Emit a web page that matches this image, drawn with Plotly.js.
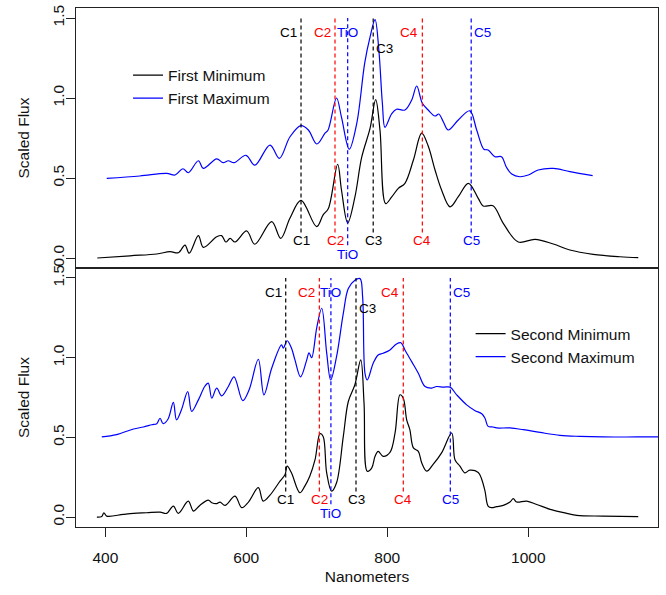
<!DOCTYPE html>
<html>
<head>
<meta charset="utf-8">
<script src="https://cdn.plot.ly/plotly-3.0.1.min.js"></script>
<style>html,body{margin:0;padding:0;background:#fff;}#chart{width:666px;height:595px;}</style>
</head>
<body>
<div id="chart"></div>
<script>
// ---------- DATA ----------
// Top panel: First Minimum (black) / First Maximum (blue)
const firstMinNm = [388.6,435,473,491.8,503.6,513,519,532,539,558,565,571,577,584,600.6,612,636,648.8,662,677.6,699.8,709,716.4,729.6,735,743.8,754,763.7,775.5,783.5,789.6,797.7,806,815.6,825,837,848.8,858,867.7,877,889,900.7,915,929,936,950,964.5,985.8,1009.5,1035.5,1059,1092,1130,1156];
const firstMinVal = [0.0,0.014,0.025,0.04,0.033,0.081,0.03,0.14,0.067,0.133,0.14,0.10,0.123,0.10,0.169,0.086,0.227,0.123,0.25,0.36,0.196,0.27,0.31,0.586,0.425,0.22,0.38,0.63,0.81,0.99,0.80,0.34,0.38,0.435,0.467,0.6125,0.78,0.70,0.55,0.425,0.32,0.383,0.467,0.373,0.325,0.327,0.217,0.10,0.117,0.0875,0.05,0.023,0.008,0.002];
const firstMaxNm = [402,449,487,499,510,517.7,532,539,558,567,574.5,582.6,599.6,612,633.6,646.8,662,677.6,688,700,711.6,716,728,735,746,756.6,768,775.5,782.6,788,793,796.7,806,813,825,834.6,841.7,849.7,858,867.7,873,879.4,886.5,900.7,917,926.8,937,943,952.7,962,969,976.5,988,1000,1014,1035.5,1059,1091.3];
const firstMaxVal = [0.498,0.5125,0.529,0.519,0.558,0.533,0.608,0.56,0.62,0.596,0.608,0.596,0.642,0.58,0.706,0.623,0.758,0.827,0.80,0.7125,0.78,0.80,1.00,0.88,0.68,0.84,1.22,1.38,1.49,1.30,0.967,0.817,0.90,0.93,0.925,0.9875,1.075,0.967,0.925,0.8875,0.90,0.852,0.80,0.8625,0.92,0.80,0.68,0.675,0.633,0.633,0.567,0.525,0.508,0.519,0.55,0.56,0.54,0.515];

// Bottom panel: Second Minimum (black) / Second Maximum (blue)
const secondMinNm = [388,395,398,402,425.5,440,458.7,477.6,487,496.5,503.5,517.7,525,534,546,551,558,562.7,569.8,584,593.5,603,617,624,633.6,647.8,655,658,664,676,683,690,697.5,704.6,709,714,721,728,737.6,744.7,754,762.3,767,771.6,778,782.6,787,794,803.8,811,818,822.7,827.5,832,837,844,848.8,856,865,877,891.4,896,903,910,917,929,934,938.6,943,948,955,964.5,974,978.7,983.5,997.7,1012,1031,1050,1068.7,1106,1156];
const secondMinVal = [0.0,0.004,0.027,0.006,0.017,0.023,0.027,0.031,0.023,0.069,0.023,0.1,0.0375,0.073,0.106,0.09,0.084,0.094,0.073,0.131,0.059,0.094,0.184,0.10,0.1375,0.225,0.267,0.319,0.2775,0.1525,0.194,0.256,0.36,0.523,0.506,0.2775,0.1625,0.215,0.506,0.725,0.83,0.986,0.715,0.2875,0.309,0.381,0.4125,0.381,0.406,0.5275,0.767,0.746,0.61,0.548,0.434,0.4125,0.34,0.2875,0.33,0.4025,0.5275,0.36,0.319,0.2775,0.294,0.28,0.236,0.1625,0.069,0.059,0.065,0.073,0.094,0.115,0.094,0.1,0.079,0.048,0.0275,0.0106,0.006,0.0025];
const secondMaxNm = [395,416,440,454,466,473,477.6,482,489,496.5,501,508,516.9,522.5,532,541,546,551,558,565,574.5,582.6,595,604,617,625,636,650,652.5,658,664,669,677,685.7,689,692.7,700,707,714,719.7,728,737.6,744.7,754,761.3,765,768.4,771.6,780,787,794,803.8,813,819.4,825,834.6,844,853.5,863,870,879.5,889,898.4,912.6,924,934,938.6,943,950,955,974,993,1016.6,1045,1073,1106,1154,1190];
const secondMaxVal = [0.5025,0.517,0.5525,0.565,0.579,0.586,0.62,0.586,0.615,0.72,0.61,0.673,0.7875,0.6625,0.735,0.819,0.84,0.746,0.809,0.76,0.819,0.88,0.73,0.798,0.99,0.767,0.934,1.08,1.06,1.106,1.06,0.986,0.88,0.986,1.03,1.0,1.19,1.31,1.03,0.86,1.006,1.2775,1.434,1.486,1.496,1.38,0.9,0.86,0.965,1.017,1.0275,1.048,1.086,1.094,1.048,0.975,0.9025,0.819,0.809,0.819,0.815,0.815,0.767,0.704,0.669,0.648,0.62,0.569,0.565,0.559,0.559,0.548,0.531,0.5125,0.506,0.5025,0.5025,0.5025];

// Feature markers (wavelengths, nm)
const featureNames = ['C1','C2','TiO','C3','C4','C5'];
const featureColors = ['black','red','blue','black','red','blue'];
const firstFeatureNm = [677.6,725.8,743.8,780,849.7,919];
const secondFeatureNm = [655.9,703.6,720,755.6,822.7,889.4];

const yTickVals = [0,0.5,1,1.5];
const yTickText = ['0.0','0.5','1.0','1.5'];
const xTickVals = [400,600,800,1000];
const xTickText = ['400','600','800','1000'];

// ---------- STYLE ----------
const FONT = 'Liberation Sans, Arial, Helvetica, sans-serif';
const lineSpec = {top:1.5, bottom:0.16, bottomTiO:0.08};
const topAnchor = ['right','right','center','left','right','left'];
const topLabelY = [1.41,1.41,1.41,1.31,1.41,1.41];
const bottomLabelY = [0.11,0.11,0.02,0.11,0.11,0.11];

const traces = [];
function spectrum(x, y, color, name, xa, ya, legend) {
  traces.push({type:'scatter', mode:'lines', x:x, y:y, name:name, xaxis:xa, yaxis:ya, legend:legend,
    line:{color:color, width:1.2, shape:'spline', smoothing:1.0}, hoverinfo:'skip'});
}
spectrum(firstMinNm, firstMinVal, 'black', 'First Minimum', 'x2', 'y2', 'legend');
spectrum(firstMaxNm, firstMaxVal, 'blue', 'First Maximum', 'x2', 'y2', 'legend');
spectrum(secondMinNm, secondMinVal, 'black', 'Second Minimum', 'x', 'y', 'legend2');
spectrum(secondMaxNm, secondMaxVal, 'blue', 'Second Maximum', 'x', 'y', 'legend2');

const annotations = [];
function features(nms, xa, ya) {
  nms.forEach((nm, i) => {
    const yb = featureNames[i] === 'TiO' ? lineSpec.bottomTiO : lineSpec.bottom;
    traces.push({type:'scatter', mode:'lines', x:[nm, nm], y:[yb, lineSpec.top], xaxis:xa, yaxis:ya,
      showlegend:false, hoverinfo:'skip', line:{color:featureColors[i], width:1.2, dash:'4px,3px'}});
    const anc = topAnchor[i];
    annotations.push({xref:xa, yref:ya, x:nm, y:topLabelY[i], text:featureNames[i], showarrow:false,
      xanchor:anc, yanchor:'middle', xshift: anc==='right' ? -2 : (anc==='left' ? 1 : 0),
      font:{family:FONT, size:13.5, color:featureColors[i]}});
    annotations.push({xref:xa, yref:ya, x:nm, y:bottomLabelY[i], text:featureNames[i], showarrow:false,
      xanchor:'center', yanchor:'middle', font:{family:FONT, size:13.5, color:featureColors[i]}});
  });
}
features(firstFeatureNm, 'x2', 'y2');
features(secondFeatureNm, 'x', 'y');

const frame = {showline:true, mirror:true, linecolor:'#222', linewidth:1.2, showgrid:false, zeroline:false};
const yCommon = Object.assign({}, frame, {range:[-0.0625,1.5625], tickmode:'array', tickvals:yTickVals, ticktext:yTickText,
  tickangle:-90, ticks:'outside', ticklen:9, tickwidth:1, tickcolor:'#222', ticklabelstandoff:-4,
  title:{text:'Scaled Flux', font:{family:FONT, size:15.5, color:'#111'}, standoff:16}});

const layout = {
  width:666, height:595,
  margin:{l:76, r:8, t:8, b:68},
  paper_bgcolor:'white', plot_bgcolor:'white',
  font:{family:FONT, size:15.5, color:'#111'},
  showlegend:true,
  xaxis: Object.assign({}, frame, {anchor:'y', range:[358.4,1184], tickmode:'array', tickvals:xTickVals, ticktext:xTickText,
    ticks:'outside', ticklen:9, tickwidth:1, tickcolor:'#222', ticklabelstandoff:7,
    title:{text:'Nanometers', font:{family:FONT, size:15.5, color:'#111'}, standoff:6}}),
  xaxis2: Object.assign({}, frame, {anchor:'y2', matches:'x', range:[358.4,1184], showticklabels:false, ticks:''}),
  yaxis: Object.assign({}, yCommon, {domain:[0,0.499], anchor:'x'}),
  yaxis2: Object.assign({}, yCommon, {domain:[0.499,1], anchor:'x2'}),
  legend:{x:0.0894, y:0.9027, xanchor:'left', yanchor:'top', bgcolor:'rgba(0,0,0,0)', borderwidth:0,
    font:{family:FONT, size:15.5, color:'#111'}, tracegroupgap:0},
  legend2:{x:0.678, y:0.4047, xanchor:'left', yanchor:'top', bgcolor:'rgba(0,0,0,0)', borderwidth:0,
    font:{family:FONT, size:15.5, color:'#111'}, tracegroupgap:0},
  annotations: annotations
};

Plotly.newPlot('chart', traces, layout, {displayModeBar:false, staticPlot:true});
</script>
</body>
</html>
